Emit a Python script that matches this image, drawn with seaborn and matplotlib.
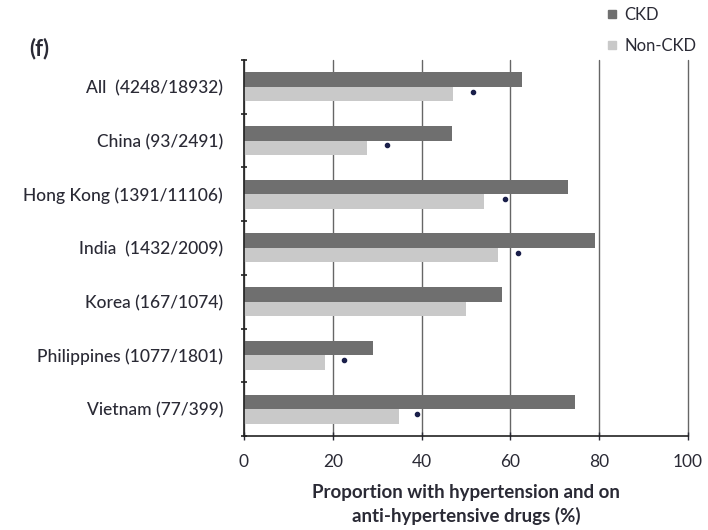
import numpy as np
import pandas as pd
import matplotlib
matplotlib.use('Agg')
import matplotlib.pyplot as plt
import seaborn as sns

# data
countries = ['All  (4248/18932)', 'China (93/2491)', 'Hong Kong (1391/11106)',
             'India  (1432/2009)', 'Korea (167/1074)', 'Philippines (1077/1801)',
             'Vietnam (77/399)']
ckd = [62.5, 46.8, 73.0, 79.1, 58.0, 29.1, 74.5]
non_ckd = [47.1, 27.8, 54.1, 57.3, 50.0, 18.2, 35.0]
overall = [51.5, 32.3, 58.8, 61.6, np.nan, 22.6, 39.0]

df = pd.DataFrame({
    'country': countries * 2,
    'value': ckd + non_ckd,
    'group': ['CKD'] * len(countries) + ['Non-CKD'] * len(countries),
})

sns.set_style('white')
plt.rcParams['font.family'] = ['Lato', 'DejaVu Sans']
txt = '#2a2a35'

fig = plt.figure(figsize=(7.08, 5.30), dpi=100)
ax = fig.add_axes([0.3446, 0.1774, 0.6272, 0.7094])

sns.barplot(ax=ax, data=df, y='country', x='value', hue='group', orient='h',
            palette=['#6f6f6f', '#c9c9c9'], width=0.54, saturation=1, legend=False,
            linewidth=0)

# small markers for overall proportion
ax.scatter(overall, np.arange(len(countries)) + 0.09, s=9, color='#1a1f4a', zorder=5)

ax.set_xlim(0, 100)
ax.set_ylim(len(countries) - 0.5, -0.5)
ax.set_xticks([0, 20, 40, 60, 80, 100])
ax.set_yticks(np.arange(len(countries) + 1) - 0.5, minor=True)
ax.tick_params(axis='y', which='major', left=False, length=0, pad=15, labelsize=12.5,
               colors=txt)
ax.tick_params(axis='y', which='minor', left=True, length=5, width=1.2, direction='inout',
               color='#222222')
ax.tick_params(axis='x', bottom=True, length=6, width=1, direction='inout', pad=10,
               labelsize=12.5, colors=txt)
ax.xaxis.grid(True, color='#666666', linewidth=1)
for gl in ax.get_xgridlines():
    gl.set_clip_on(False)
ax.set_axisbelow(True)
for side in ['top', 'right']:
    ax.spines[side].set_visible(False)
for side in ['left', 'bottom']:
    ax.spines[side].set_color('#222222')
    ax.spines[side].set_linewidth(1.2)
for lbl in ax.get_yticklabels():
    lbl.set_fontweight('medium')
ax.set_ylabel('')
ax.set_xlabel('Proportion with hypertension and on\nanti-hypertensive drugs (%)',
              fontsize=13.5, fontweight='bold', labelpad=10, linespacing=1.4, color=txt)

fig.text(0.042, 0.895, '(f)', fontsize=16, fontweight='bold', color=txt)

# legend
handles = [plt.Line2D([], [], marker='s', linestyle='', color=c, markersize=6)
           for c in ['#6f6f6f', '#c9c9c9']]
leg = fig.legend(handles, ['CKD', 'Non-CKD'], loc='upper left', bbox_to_anchor=(0.832, 1.015),
                 frameon=False, fontsize=12, handletextpad=0.2, labelspacing=0.9,
                 handlelength=1)
for t in leg.get_texts():
    t.set_color(txt)

fig.savefig('out.png', dpi=100)
